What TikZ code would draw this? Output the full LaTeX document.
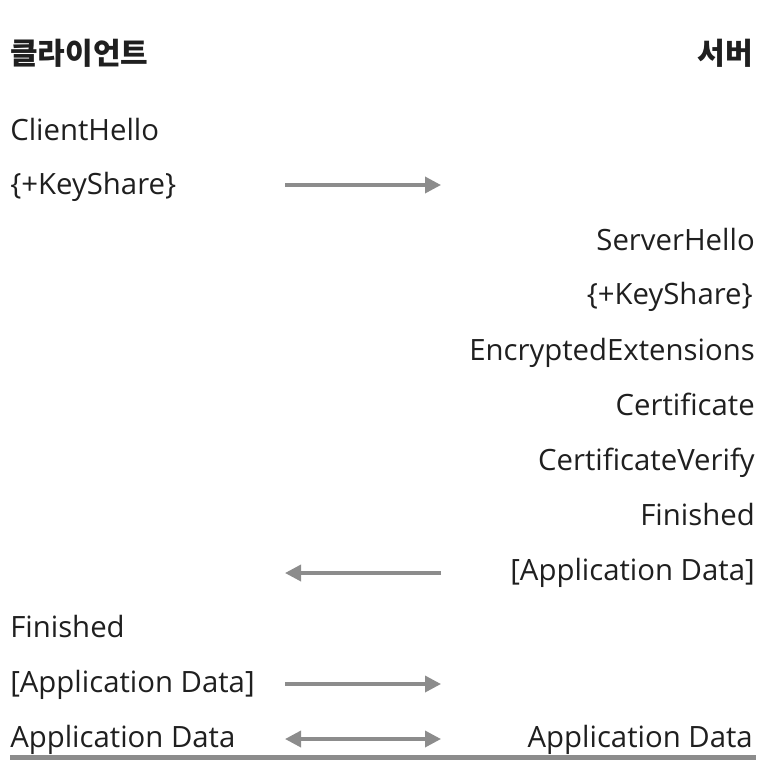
\documentclass[tikz,border=0pt]{standalone}
\usepackage{fontspec}
\setmainfont{Open Sans}
\newfontfamily\kofont{Noto Sans CJK KR}
\usetikzlibrary{arrows.meta}

\definecolor{msggray}{RGB}{140,140,140}

\begin{document}
\begin{tikzpicture}[x=0.75pt,y=-0.75pt,
  msg/.style={inner sep=0pt, font=\fontsize{22}{26}\selectfont, text=black!88},
  title/.style={inner sep=0pt, font=\kofont\bfseries\fontsize{22.5}{27}\selectfont, text=black!88},
  flow/.style={draw=msggray, line width=2.6pt, -{Triangle[length=12pt,width=12pt]}},
  flowboth/.style={draw=msggray, line width=2.6pt, {Triangle[length=12pt,width=12pt]}-{Triangle[length=12pt,width=12pt]}}]
\useasboundingbox (0,0) rectangle (766,760);
% headers
\node[title, anchor=base west] (client) at (10,64) {클라이언트};
\node[title, anchor=base east] (server) at (753,64) {서버};
% client side
\node[msg, anchor=base west] (chello) at (10,140) {ClientHello};
\node[msg, anchor=base west] (ckey) at (10,194) {\{+KeyShare\}};
\node[msg, anchor=base west] (cfin) at (10,637) {Finished};
\node[msg, anchor=base west] (cappb) at (10,692) {[Application Data]};
\node[msg, anchor=base west] (capp) at (10,747) {Application Data};
% server side
\node[msg, anchor=base east] (shello) at (755,250) {ServerHello};
\node[msg, anchor=base east] (skey) at (753,304) {\{+KeyShare\}};
\node[msg, anchor=base east] (sext) at (755,360) {EncryptedExtensions};
\node[msg, anchor=base east] (scert) at (755,415) {Certificate};
\node[msg, anchor=base east] (sverify) at (755,470) {CertificateVerify};
\node[msg, anchor=base east] (sfin) at (755,525) {Finished};
\node[msg, anchor=base east] (sappb) at (755,580) {[Application Data]};
\node[msg, anchor=base east] (sapp) at (753,747) {Application Data};
% arrow ends
\coordinate (a1l) at (285,185);
\coordinate (a1r) at (441,185);
\coordinate (a2l) at (285,573);
\coordinate (a2r) at (441,573);
\coordinate (a3l) at (285,684);
\coordinate (a3r) at (441,684);
\coordinate (a4l) at (285,739);
\coordinate (a4r) at (441,739);
\draw[flow] (a1l) -- (a1r);
\draw[flow] (a2r) -- (a2l);
\draw[flow] (a3l) -- (a3r);
\draw[flowboth] (a4l) -- (a4r);
% rule
\coordinate (rulel) at (10,757.5);
\coordinate (ruler) at (756,757.5);
\draw[msggray, line width=3.2pt] (rulel) -- (ruler);
\end{tikzpicture}
\end{document}
